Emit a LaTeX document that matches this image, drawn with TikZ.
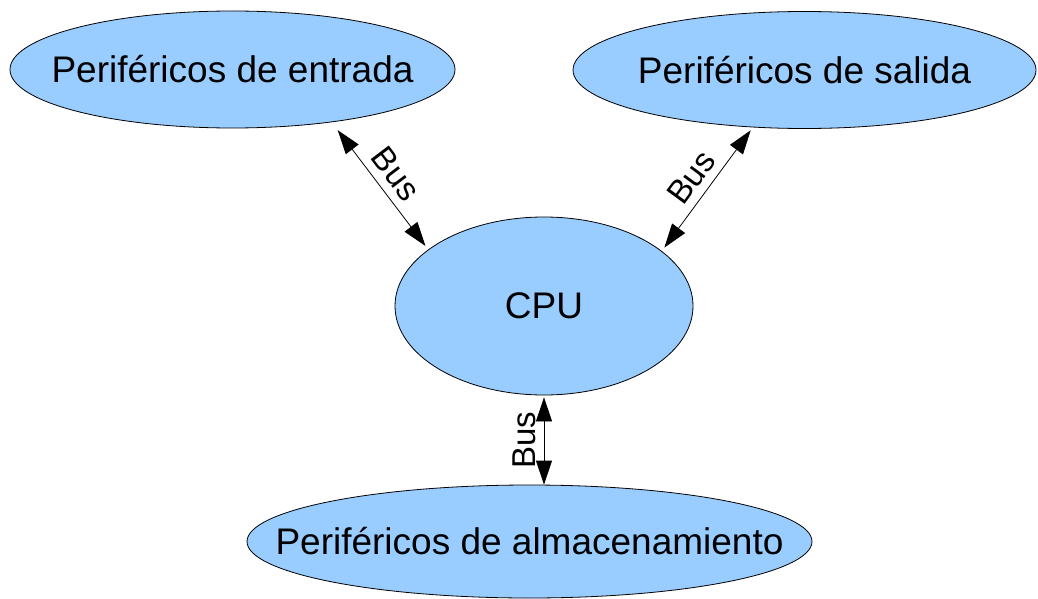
\documentclass[tikz,border=0pt]{standalone}
\usepackage{fontspec}
\setmainfont{Liberation Sans}
\usetikzlibrary{shapes.geometric, arrows.meta}
\definecolor{periphblue}{HTML}{99CCFF}
\begin{document}
\begin{tikzpicture}[x=1pt, y=-1pt,
  periph/.style={ellipse, draw=black, line width=0.8pt, fill=periphblue, inner sep=0pt},
  periphtext/.style={font=\fontsize{37}{44}\selectfont},
  busarrow/.style={{Triangle[length=24pt,width=16pt]}-{Triangle[length=24pt,width=16pt]}, line width=0.8pt, draw=black},
  buslabel/.style={midway, sloped, above, inner sep=8pt, font=\fontsize{33}{40}\selectfont}]
\useasboundingbox (0,0) rectangle (1038,599);
% units
\node[periph, minimum width=445pt, minimum height=117pt, label={[periphtext]center:Periféricos de entrada}] (in) at (232.5,69.5) {};
\node[periph, minimum width=463pt, minimum height=117pt, label={[periphtext]center:Periféricos de salida}] (out) at (804.5,70) {};
\node[periph, minimum width=298pt, minimum height=178pt, label={[periphtext]center:CPU}] (cpu) at (544,306) {};
\node[periph, minimum width=565pt, minimum height=113pt, label={[periphtext]center:Periféricos de almacenamiento}] (st) at (529.5,541.5) {};
% buses
\draw[busarrow, shorten <=10pt, shorten >=4.5pt] (in.-28) -- node[buslabel] {Bus} (cpu.154.5);
\draw[busarrow, shorten <=3.6pt, shorten >=4.3pt] (out.-132.5) -- node[buslabel] {Bus} (cpu.25.5);
\draw[busarrow, shorten >=2pt] (cpu.south |- st.north) -- node[buslabel] {Bus} (cpu.south);
\end{tikzpicture}
\end{document}
